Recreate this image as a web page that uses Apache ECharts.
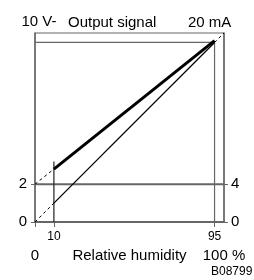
<!DOCTYPE html>
<html>
<head>
<meta charset="utf-8">
<script src="https://cdn.jsdelivr.net/npm/echarts@6/dist/echarts.min.js"></script>
<style>
  html, body { margin: 0; padding: 0; background: #fff; }
  #chart { width: 254px; height: 280px; }
</style>
</head>
<body>
<div id="chart"></div>
<script>
// humidity (%) -> output (% of span)
const thinSolid = [[10, 10], [95, 95]];
const thinDashLow = [[0, 0], [10, 10]];
const thinDashHigh = [[95, 95], [100, 100]];
const thickSolid = [[10, 28], [95, 96]];
const thickDashLow = [[0, 20], [10, 28]];
const line95H = [[0, 95], [95, 95]];
const line95V = [[95, 0], [95, 95]];
const line10V = [[10, 0], [10, 32]];
const line2V = [[0, 20], [100, 20]];

const xTickValues = [0, 10, 95];
const xTickLabels = [10, 95];
const xEndLabels = [0, 100];
const yTickValues = [0, 20];

const font = '"Liberation Sans", Arial, sans-serif';
const gray = '#666';

const chart = echarts.init(document.getElementById('chart'));

function seg(data, width, color, type) {
  return {
    type: 'line',
    data: data,
    symbol: 'none',
    silent: true,
    animation: false,
    lineStyle: { width: width, color: color, type: type || 'solid' }
  };
}

function titleText(text, left, top, size) {
  return {
    text: text, left: left, top: top, padding: 0,
    textStyle: { fontSize: size, fontWeight: 'normal', color: '#000', fontFamily: font }
  };
}

const option = {
  backgroundColor: '#fff',
  textStyle: { fontFamily: font, color: '#000' },
  title: [
    titleText('Output signal', 68, 15, 15),
    titleText('20 mA', 188, 15, 15),
    titleText('B08799', 211, 266, 12)
  ],
  grid: {
    left: 35, top: 33, width: 189, height: 189,
    outerBoundsMode: 'none',
    show: true, borderColor: gray, borderWidth: 1
  },
  xAxis: [
    {
      type: 'value', min: 0, max: 100, position: 'bottom',
      axisLine: { show: true, onZero: false, lineStyle: { color: gray, width: 2 } },
      axisTick: { show: true, customValues: xTickValues, length: 5, lineStyle: { color: gray } },
      axisLabel: { customValues: xTickLabels, fontSize: 12, margin: 9, color: '#000', fontFamily: font },
      splitLine: { show: false }
    },
    {
      type: 'value', min: 0, max: 100, position: 'bottom',
      axisLine: { show: false },
      axisTick: { show: false },
      axisLabel: {
        customValues: xEndLabels, fontSize: 15, margin: 26, color: '#000', fontFamily: font,
        formatter: v => v === 100 ? '100 %' : String(v)
      },
      name: 'Relative humidity', nameLocation: 'middle', nameGap: 26,
      nameMoveOverlap: false,
      nameTextStyle: { fontSize: 15, color: '#000', fontFamily: font },
      splitLine: { show: false }
    }
  ],
  yAxis: [
    {
      type: 'value', min: 0, max: 100, position: 'left',
      axisLine: { show: true, onZero: false, lineStyle: { color: gray, width: 1.5 } },
      axisTick: { show: true, customValues: yTickValues, length: 4, lineStyle: { color: gray } },
      axisLabel: { customValues: yTickValues, fontSize: 15, margin: 8, color: '#000', fontFamily: font, formatter: v => String(v / 10) },
      name: '10 V-', nameLocation: 'end', nameGap: 4,
      nameTextStyle: { fontSize: 15, color: '#000', fontFamily: font, padding: [0, 0, 0, 8] },
      splitLine: { show: false }
    },
    {
      type: 'value', min: 0, max: 100, position: 'right',
      axisLine: { show: true, onZero: false, lineStyle: { color: gray, width: 1.5 } },
      axisTick: { show: true, customValues: yTickValues, length: 4, lineStyle: { color: gray } },
      axisLabel: { customValues: yTickValues, fontSize: 15, margin: 7, color: '#000', fontFamily: font, formatter: v => String(v / 5) },
      splitLine: { show: false }
    }
  ],
  series: [
    seg(line2V, 2, gray),
    seg(line95H, 1.2, gray),
    seg(line95V, 1.2, gray),
    seg(line10V, 1.2, '#222'),
    seg(thinDashLow, 1, '#000', [3, 3]),
    seg(thinDashHigh, 1, '#000', [3, 3]),
    seg(thickDashLow, 1, '#000', [3, 3]),
    seg(thinSolid, 1.3, '#000'),
    seg(thickSolid, 3, '#000')
  ]
};

chart.setOption(option);
</script>
</body>
</html>
